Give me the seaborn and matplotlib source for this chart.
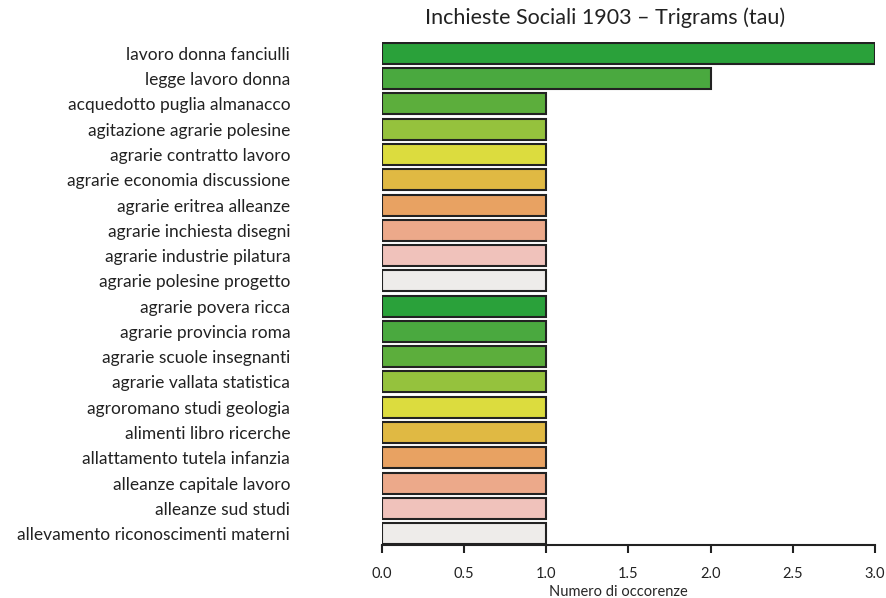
import numpy as np
import pandas as pd
import matplotlib
matplotlib.use("Agg")
import matplotlib.pyplot as plt
import seaborn as sns

trigrams = [
    "lavoro donna fanciulli",
    "legge lavoro donna",
    "acquedotto puglia almanacco",
    "agitazione agrarie polesine",
    "agrarie contratto lavoro",
    "agrarie economia discussione",
    "agrarie eritrea alleanze",
    "agrarie inchiesta disegni",
    "agrarie industrie pilatura",
    "agrarie polesine progetto",
    "agrarie povera ricca",
    "agrarie provincia roma",
    "agrarie scuole insegnanti",
    "agrarie vallata statistica",
    "agroromano studi geologia",
    "alimenti libro ricerche",
    "allattamento tutela infanzia",
    "alleanze capitale lavoro",
    "alleanze sud studi",
    "allevamento riconoscimenti materni",
]
counts = [3, 2, 1, 1, 1, 1, 1, 1, 1, 1, 1, 1, 1, 1, 1, 1, 1, 1, 1, 1]

# terrain-like palette, recycled every 10 bars
palette10 = ["#2aa13a", "#4aa93f", "#5cae3c", "#95c23d", "#dcdc3e",
             "#e0b943", "#e8a262", "#eca98a", "#f0c2bb", "#eeecea"]
bar_colors = [palette10[i % 10] for i in range(len(trigrams))]

df = pd.DataFrame({"trigram": trigrams, "n": counts})

sns.set_style("white")
plt.rcParams['font.family'] = ['Lato', 'DejaVu Sans']

fig = plt.figure(figsize=(8.86, 5.98), dpi=100)
ax = fig.add_axes([0.431, 0.0886, 0.5566, 0.8412])

sns.barplot(data=df, x="n", y="trigram", hue="trigram", palette=bar_colors,
            saturation=1, legend=False, orient="h", width=0.83,
            edgecolor="#222222", linewidth=1.5, ax=ax)

ax.set_xlim(0, 3)
ax.set_ylim(len(trigrams) - 1 + 0.45, -0.45)
ax.set_xticks([0, 0.5, 1, 1.5, 2, 2.5, 3])
ax.set_xticklabels(["0.0", "0.5", "1.0", "1.5", "2.0", "2.5", "3.0"], fontsize=10.5)

for s in ["top", "right", "left"]:
    ax.spines[s].set_visible(False)
ax.spines["bottom"].set_linewidth(1.5)
ax.spines["bottom"].set_color("#222222")

ax.tick_params(axis="x", bottom=True, direction="out", length=6, width=1.5,
               pad=10, colors="#222222")
ax.tick_params(axis="y", left=False, length=0, pad=66, labelsize=12.5)
for t in ax.get_yticklabels():
    t.set_color("#222222")
ax.set_ylabel("")
ax.set_xlabel("Numero di occorenze", fontsize=10.5)
ax.xaxis.set_label_coords(0.48, -0.08)

fig.text(0.683, 0.97, "Inchieste Sociali 1903 \u2013 Trigrams (tau)",
         ha="center", va="center", fontsize=15.5, color="#222222")

fig.savefig("out.png", dpi=100)
